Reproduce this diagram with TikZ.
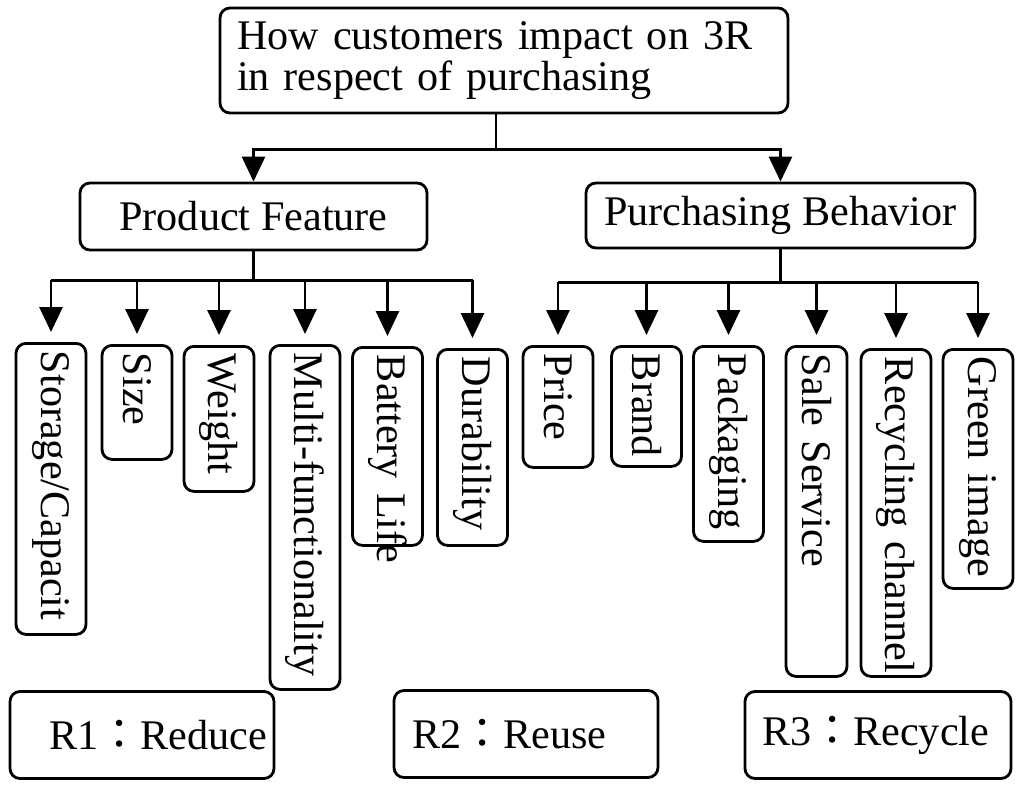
\documentclass[tikz,border=0pt]{standalone}
\usepackage{fontspec}
\setmainfont{Liberation Serif}
\newfontfamily\cjk{Noto Sans CJK TC}
\usetikzlibrary{arrows.meta,positioning,calc}
\tikzset{
  box/.style={draw=black, line width=1.6pt, rounded corners=0.2cm,
    font=\fontsize{24}{22}\selectfont, inner sep=0pt},
  headbox/.style={box, align=center},
  leafbox/.style={box, rotate=-90, anchor=west, align=left,
    inner xsep=0.15cm, minimum height=1.4cm},
  rbox/.style={box, align=left, minimum height=1.74cm},
  link/.style={line width=1.6pt},
  arr/.style={link, -{Triangle[length=0.5cm,width=0.46cm]}},
  leafarr/.style={arr, shorten >=0.2cm},
}
\newcommand{\leaf}[6][]{%
  \pgfmathsetmacro{\leafw}{#5-0.3}%
  \node[leafbox, text width=\leafw cm, #1] (#2) at (#3,#4) {\mbox{#6}};}
\newcommand{\rsep}{{\cjk ：}}

\begin{document}
\begin{tikzpicture}
  \useasboundingbox (0,0) rectangle (20.48,-15.76);

  %% ---- top levels ----
  \node[box, align=left, inner xsep=0.34cm, text width=10.68cm,
    minimum height=2.1cm] (root) at (10.08,-1.21)
    {How customers impact on 3R\\in respect of purchasing};

  \node[headbox, minimum width=6.94cm, minimum height=1.34cm] (pf) at (5.07,-4.33) {Product Feature};
  \node[headbox, minimum width=7.78cm, minimum height=1.30cm] (pb) at (15.61,-4.31) {Purchasing Behavior};

  \coordinate (rs) at ($(root.south)+(-0.16,0)$);
  \coordinate (rj) at ($(rs)+(0,-0.7)$);
  \draw[link] (rs) -- (rj);
  \draw[arr] (rj) -| (pf.north);
  \draw[arr] (rj) -| (pb.north);

  %% ---- product feature leaves ----
  \leaf{s1}{1.02}{-6.84}{5.82}{Storage/Capacit}
  \leaf{s2}{2.74}{-6.88}{2.28}{Size}
  \leaf{s3}{4.38}{-6.90}{2.90}{Weight}
  \leaf{s4}{6.10}{-6.88}{6.88}{Multi-functionality}
  \leaf{s5}{7.75}{-6.92}{3.96}{Battery Life}
  \leaf{s6}{9.45}{-6.96}{3.92}{Durability}

  %% ---- purchasing behavior leaves ----
  \leaf{b1}{11.16}{-6.90}{2.42}{Price}
  \leaf{b2}{12.93}{-6.90}{2.40}{Brand}
  \leaf{b3}{14.57}{-6.90}{3.90}{Packaging}
  \leaf[minimum height=1.22cm]{b4}{16.33}{-6.90}{6.60}{Sale Service}
  \leaf{b5}{17.92}{-6.96}{6.54}{Recycling channel}
  \leaf{b6}{19.56}{-6.96}{4.78}{Green image}

  \coordinate (pfj) at ($(pf.south)+(0,-0.58)$);
  \coordinate (pbj) at ($(pb.south)+(0,-0.66)$);
  \draw[link] (pf.south) -- (pfj);
  \draw[link] (pb.south) -- (pbj);
  \draw[link] (s1.west |- pfj) -- (s6.west |- pfj);
  \draw[link] (b1.west |- pbj) -- (b6.west |- pbj);
  \foreach \n in {s1,s2,s3,s4,s5,s6}
    \draw[leafarr] (\n.west |- pfj) -- (\n.west);
  \foreach \n in {b1,b2,b3,b4,b5,b6}
    \draw[leafarr] (\n.west |- pbj) -- (\n.west);

  %% ---- 3R boxes ----
  \node[rbox, inner xsep=0.78cm, text width=3.72cm] (r1) at (2.84,-14.70) {R1\rsep Reduce};
  \node[rbox, inner xsep=0.36cm, text width=4.56cm] (r2) at (10.52,-14.68) {R2\rsep Reuse};
  \node[rbox, inner xsep=0.34cm, text width=4.64cm] (r3) at (17.56,-14.70) {R3\rsep Recycle};

\end{tikzpicture}
\end{document}
